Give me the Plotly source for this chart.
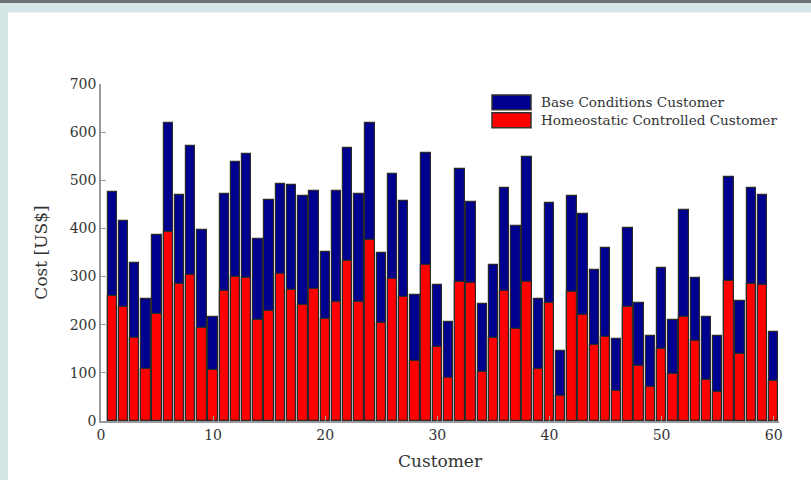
import plotly.graph_objects as go

customers = list(range(1, 61))
base_cost = [476, 416, 328, 253, 386, 619, 470, 571, 397, 217,
             471, 539, 554, 379, 460, 492, 491, 468, 478, 352,
             478, 567, 472, 618, 348, 514, 458, 262, 557, 283,
             206, 524, 455, 242, 325, 483, 405, 548, 253, 452,
             145, 468, 429, 313, 359, 171, 401, 246, 177, 317,
             210, 438, 298, 217, 176, 506, 250, 483, 470, 185]
homeo_cost = [260, 236, 173, 107, 222, 392, 284, 304, 193, 106,
              271, 300, 298, 210, 228, 306, 273, 241, 275, 211,
              248, 333, 248, 377, 203, 295, 258, 124, 324, 153,
              90, 289, 287, 102, 173, 271, 191, 288, 109, 246,
              52, 267, 220, 158, 175, 63, 236, 114, 70, 150,
              98, 216, 167, 85, 60, 291, 140, 284, 282, 83]
series_names = ["Base Conditions Customer", "Homeostatic Controlled Customer"]
series_colors = ["#00008f", "#ff0000"]
x_ticks = [0, 10, 20, 30, 40, 50, 60]
y_ticks = [0, 100, 200, 300, 400, 500, 600, 700]

FONT = "DejaVu Serif"
W, H = 811, 480
L, R, T, B = 101, 32, 84, 57
pw, ph = W - L - R, H - T - B

def px2x(px):
    return (px - L) / pw

def px2y(py):
    return (H - B - py) / ph

fig = go.Figure()
for vals, name, col in zip([base_cost, homeo_cost], series_names, series_colors):
    fig.add_trace(go.Bar(
        x=customers, y=vals, name=name, width=0.84,
        marker=dict(color=col, line=dict(color="#2a2a2a", width=1.2)),
        showlegend=False,
    ))

shapes = [
    # page frame
    dict(type="rect", xref="paper", yref="paper", x0=px2x(8), x1=px2x(W + 5),
         y0=px2y(H + 5), y1=px2y(12), fillcolor="white", line=dict(width=0), layer="below"),
    dict(type="rect", xref="paper", yref="paper", x0=px2x(-5), x1=px2x(W + 5),
         y0=px2y(2.5), y1=px2y(-5), fillcolor="#6e7272", line=dict(width=0), layer="below"),
]
annotations = []
# manual legend
leg_rows = [(95, 110), (113, 128)]
for (y0, y1), name, col in zip(leg_rows, series_names, series_colors):
    shapes.append(dict(type="rect", xref="paper", yref="paper",
                       x0=px2x(492), x1=px2x(531), y0=px2y(y1), y1=px2y(y0),
                       fillcolor=col, line=dict(color="#333333", width=1.5)))
    annotations.append(dict(xref="paper", yref="paper", x=px2x(539), y=px2y((y0 + y1) / 2),
                            text=name, showarrow=False, xanchor="left", yanchor="middle",
                            font=dict(family=FONT, size=13.6, color="#333333")))

fig.update_layout(
    width=W, height=H,
    margin=dict(l=L, r=R, t=T, b=B, pad=0),
    paper_bgcolor="#d3e6e5", plot_bgcolor="white",
    barmode="overlay", bargap=0,
    shapes=shapes, annotations=annotations,
    font=dict(family=FONT, size=14, color="#333333"),
    xaxis=dict(range=[0, 60.47], tickvals=x_ticks, ticks="inside", ticklen=5,
               tickcolor="#999999", showline=True, linecolor="#999999", linewidth=1.5,
               showgrid=False, zeroline=False, mirror=False,
               title=dict(text="Customer", font=dict(family=FONT, size=17, color="#333333"),
                          standoff=14),
               tickfont=dict(family=FONT, size=14, color="#333333")),
    yaxis=dict(range=[0, 700], tickvals=y_ticks, ticks="inside", ticklen=5,
               tickcolor="#999999", showline=True, linecolor="#999999", linewidth=1.5,
               showgrid=False, zeroline=False, mirror=False,
               title=dict(text="Cost [US$]", font=dict(family=FONT, size=17, color="#333333"),
                          standoff=18),
               tickfont=dict(family=FONT, size=14, color="#333333")),
)

fig.write_html("out.html", config={"displayModeBar": False},
               post_script="document.body.style.margin='0';document.body.style.overflow='hidden';")
